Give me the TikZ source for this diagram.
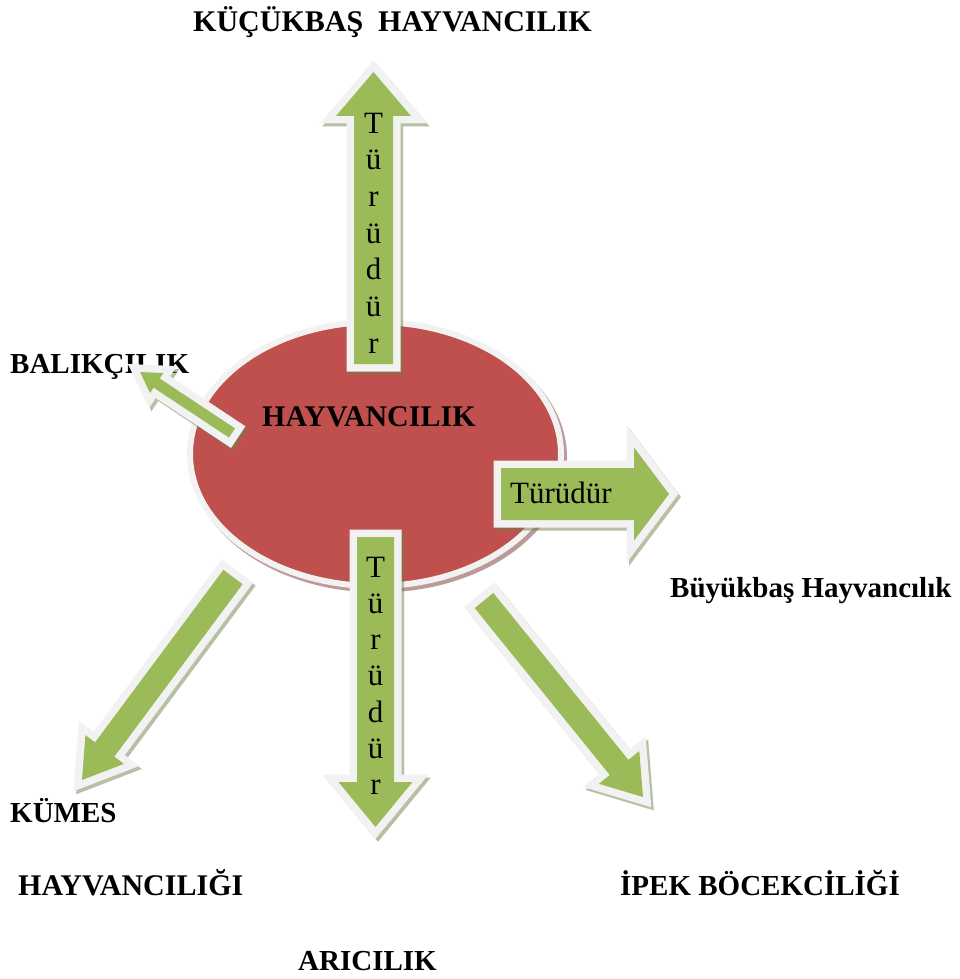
\documentclass[tikz,border=0pt]{standalone}
\usepackage{fontspec}
\setmainfont{Liberation Serif}
\usetikzlibrary{shapes.geometric}

\definecolor{hubred}{HTML}{C0504D}
\definecolor{leafgreen}{HTML}{9BBB59}
\definecolor{rimgray}{HTML}{F2F2F2}
\definecolor{greenshade}{HTML}{6F7F4A}
\definecolor{redshade}{HTML}{7A3533}

\tikzset{
  label text/.style={font=\fontsize{29}{34}\selectfont\bfseries, inner sep=0pt, anchor=base west},
  wide label/.style={label text, font=\fontsize{30}{35}\selectfont\bfseries},
  arrow text/.style={font=\fontsize{31}{36}\selectfont, inner sep=0pt, anchor=base},
  arrow rim/.style={draw=rimgray, line width=15pt, line join=miter, miter limit=10},
  arrow body/.style={fill=leafgreen},
  arrow shade/.style={draw=greenshade, line width=15pt, line join=miter, miter limit=10, opacity=0.5},
  hub shape/.style={ellipse, fill=hubred, draw=rimgray, line width=6pt,
    minimum width=371pt, minimum height=264pt, inner sep=0pt, outer sep=0pt},
  hub shade/.style={draw=redshade, line width=6pt, opacity=0.5},
}

% Block arrow from a tail coordinate to a tip coordinate:
% #1 tail, #2 tip, #3 shaft half width, #4 head half width, #5 head length (all in pt)
\newcommand{\blockarrow}[5]{%
  \pgfpointdiff{\pgfpointanchor{#1}{center}}{\pgfpointanchor{#2}{center}}%
  \pgfgetlastxy{\bax}{\bay}%
  \pgfmathsetmacro{\baang}{atan2(\bay,\bax)}%
  \pgfmathsetmacro{\balen}{veclen(\bax,\bay)}%
  \pgfmathsetmacro{\babase}{\balen-#5}%
  \def\baoutline{(0,-#3) -- (\babase,-#3) -- (\babase,-#4) -- (\balen,0) -- (\babase,#4) -- (\babase,#3) -- (0,#3) -- cycle}%
  \begin{scope}[shift={(#1)}, xshift=2.5pt, yshift=-3pt, rotate=\baang, x=1pt, y=1pt]
    \draw[arrow shade] \baoutline;
  \end{scope}
  \begin{scope}[shift={(#1)}, rotate=\baang, x=1pt, y=1pt]
    \draw[arrow rim] \baoutline;
    \fill[arrow body] \baoutline;
  \end{scope}
}

\begin{document}
\begin{tikzpicture}[x=1pt, y=-1pt]
  \useasboundingbox (0,0) rectangle (960,979);

  % central ellipse with its drop shadow
  \coordinate (hubc) at (375.5,454);
  \draw[hub shade] ([xshift=3pt,yshift=-3.5pt]hubc) ellipse [x radius=185.5pt, y radius=132pt];
  \node[hub shape] (hub) at (hubc) {};
  \node[wide label] (hubtext) at (262,426) {HAYVANCILIK};

  % outer labels
  \node[wide label] (kucukbas) at (193,32) {KÜÇÜKBAŞ~~HAYVANCILIK};
  \node[label text] (balik) at (10,373) {BALIKÇILIK};
  \node[label text] (buyukbas) at (670,597) {Büyükbaş Hayvancılık};
  \node[label text] (kumes1) at (10,822) {KÜMES};
  \node[wide label] (kumes2) at (18,895) {HAYVANCILIĞI};
  \node[label text] (ipek) at (620,895) {İPEK BÖCEKCİLİĞİ};
  \node[label text] (ari) at (298,970) {ARICILIK};

  % arrow tails and tips
  \coordinate (ta0) at (373.5,364);  \coordinate (ta1) at (373.5,72);
  \coordinate (ra0) at (501,494);    \coordinate (ra1) at (669,494);
  \coordinate (ba0) at (375.5,537);  \coordinate (ba1) at (375.5,827);
  \coordinate (fa0) at (232,433);    \coordinate (fa1) at (140,372);
  \coordinate (ka0) at (233,577);    \coordinate (ka1) at (82,780);
  \coordinate (pa0) at (484,600.5);  \coordinate (pa1) at (643,797);

  \blockarrow{ta0}{ta1}{19.5}{37.5}{44}
  \blockarrow{ra0}{ra1}{26}{46.5}{35}
  \blockarrow{ba0}{ba1}{18.5}{37}{45}
  \blockarrow{fa0}{fa1}{5.5}{12}{20}
  \blockarrow{ka0}{ka1}{12}{24}{38}
  \blockarrow{pa0}{pa1}{12}{26}{38}

  % texts inside the arrows
  \foreach \ch [count=\i from 0] in {T,ü,r,ü,d,ü,r} {
    \node[arrow text] (up\i) at (373.5,{133+36.7*\i}) {\ch};
    \node[arrow text] (dn\i) at (375.5,{577+36.3*\i}) {\ch};
  }
  \node[arrow text, anchor=base west] (rtext) at (510,503) {Türüdür};
\end{tikzpicture}
\end{document}
